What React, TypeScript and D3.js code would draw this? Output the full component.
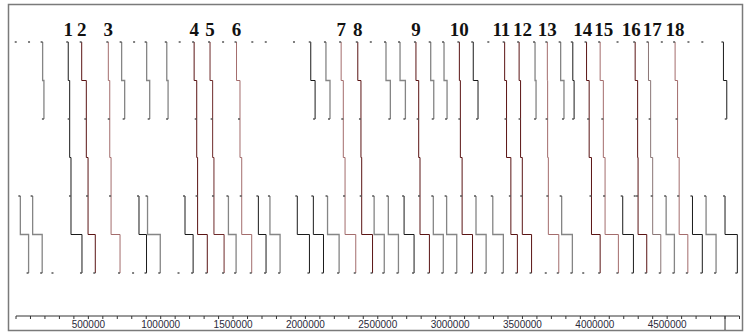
import React from "react";
import * as d3 from "d3";

// positions in kb
const chainLabels = ["1","2","3","4","5","6","7","8","9","10","11","12","13","14","15","16","17","18"];
const chainT1 = [361, 454, 638, 1231, 1341, 1524, 2247, 2362, 2764, 3064, 3377, 3477, 3672, 3943, 4037, 4279, 4371, 4555];
const chainT2 = [371, 486, 648, 1249, 1359, 1548, 2262, 2384, 2783, 3071, 3390, 3487, 3674, 3961, 4059, 4296, 4386, 4572];
const chainT3 = [380, 498, 657, 1255, 1368, 1560, 2274, 2389, 2792, 3083, 3420, 3499, 3679, 3977, 4071, 4299, 4400, 4583];
const chainT4 = [456, 548, 719, 1322, 1438, 1629, 2348, 2464, 2857, 3155, 3465, 3563, 3751, 4037, 4163, 4359, 4456, 4643];
const chainColor = ["k","r","p","r","b","p","p","r","r","r","r","r","p","r","p","r","t","p"];

const topFrom = [184, 730, 903, 1042, 2037, 2142, 2557, 2654, 2866, 2958, 3160, 3587, 3764, 3848, 4889];
const topTo = [193, 751, 924, 1051, 2067, 2170, 2587, 2691, 2887, 2979, 3193, 3594, 3787, 3857, 4912];
const topColor = ["g","g","g","g","k","g","g","g","g","g","k","g","g","k","k"];

const botFrom = [30, 115, 850, 909, 1168, 1468, 1675, 1755, 1944, 2055, 2153, 2475, 2573, 2682, 2884, 2976, 3179, 3295, 3771, 4193, 4493, 4675, 4769, 4900];
const botTo = [87, 181, 902, 997, 1224, 1521, 1728, 1825, 2028, 2125, 2233, 2545, 2643, 2751, 2953, 3046, 3249, 3368, 3845, 4267, 4550, 4743, 4838, 4985];
const botColor = ["g","g","k","g","k","g","k","g","k","k","g","g","g","k","g","g","g","g","g","k","g","k","g","k"];

const loneT1 = [5, 97, 823, 1138, 1438, 1640, 1733, 1928, 2459, 3271, 4164, 4470, 4654, 4750];
const loneT3 = [4283];
const loneT4 = [259, 816, 1130, 3668, 3927];

const axisMaxKb = 5000;
const genomeEndKb = 4900;
const tickLabels = [500000, 1000000, 1500000, 2000000, 2500000, 3000000, 3500000, 4000000, 4500000];

const palette: Record<string, string> = {
  k: "#1a1a1a",
  g: "#858585",
  r: "#5a1414",
  b: "#6e2a2a",
  p: "#a36c6c",
  t: "#8a7676",
};

const W = 745;
const H = 333;

export default function App() {
  const x = d3.scaleLinear().domain([0, axisMaxKb]).range([16, 739.5]);
  const y = d3.scaleLinear().domain([0, 3]).range([42, 273]);
  const ym = (i: number) => (y(i) + y(i + 1)) / 2;

  const link = (a: number, b: number, i: number) =>
    `M${x(a)},${y(i)}V${ym(i)}H${x(b)}V${y(i + 1)}`;

  const chainPath = (pts: number[]) => {
    let d = `M${x(pts[0])},${y(0)}`;
    for (let i = 0; i < pts.length - 1; i++) {
      d += `V${ym(i)}H${x(pts[i + 1])}V${y(i + 1)}`;
    }
    return d;
  };

  const genes: { t: number; p: number }[] = [];
  chainT1.forEach((_, i) => {
    genes.push({ t: 0, p: chainT1[i] }, { t: 1, p: chainT2[i] }, { t: 2, p: chainT3[i] }, { t: 3, p: chainT4[i] });
  });
  topFrom.forEach((v, i) => genes.push({ t: 0, p: v }, { t: 1, p: topTo[i] }));
  botFrom.forEach((v, i) => genes.push({ t: 2, p: v }, { t: 3, p: botTo[i] }));
  loneT1.forEach((v) => genes.push({ t: 0, p: v }));
  loneT3.forEach((v) => genes.push({ t: 2, p: v }));
  loneT4.forEach((v) => genes.push({ t: 3, p: v }));

  // label placement with simple collision avoidance
  const fs = 19;
  const labels = chainLabels.map((s, i) => ({ s, x: x(chainT1[i]), w: s.length * fs * 0.5 }));
  const gap = 2;
  for (let it = 0; it < 60; it++) {
    for (let i = 0; i < labels.length - 1; i++) {
      const a = labels[i], b = labels[i + 1];
      const ov = a.w / 2 + b.w / 2 + gap - (b.x - a.x);
      if (ov > 0) {
        a.x -= ov / 2;
        b.x += ov / 2;
      }
    }
  }

  const minorTicks = d3.range(0, axisMaxKb + 1, 100);
  const axisY = 316;

  return (
    <svg width={W} height={H} style={{ position: "absolute", left: 0, top: 0, background: "#fff" }}>
      <rect x={8.5} y={4.5} width={734} height={326} fill="#fff" stroke="#7a7a7a" strokeWidth={1.5} />
      {labels.map((l, i) => (
        <text key={"l" + i} x={l.x} y={36} textAnchor="middle" fontFamily="'Liberation Serif', 'Times New Roman', serif" fontWeight="bold" fontSize={fs} fill="#111">
          {l.s}
        </text>
      ))}
      {topFrom.map((v, i) => (
        <path key={"t" + i} d={link(v, topTo[i], 0)} fill="none" stroke={palette[topColor[i]]} strokeWidth={topColor[i] === "g" ? 1.3 : 1} />
      ))}
      {botFrom.map((v, i) => (
        <path key={"b" + i} d={link(v, botTo[i], 2)} fill="none" stroke={palette[botColor[i]]} strokeWidth={botColor[i] === "g" ? 1.3 : 1} />
      ))}
      {chainT1.map((_, i) => (
        <path key={"c" + i} d={chainPath([chainT1[i], chainT2[i], chainT3[i], chainT4[i]])} fill="none" stroke={palette[chainColor[i]]} strokeWidth={1} />
      ))}
      {genes.map((g, i) => (
        <rect key={"g" + i} x={x(g.p) - 2} y={y(g.t) - 0.75} width={2} height={1.5} fill="#555" />
      ))}
      <line x1={x(0)} x2={x(axisMaxKb)} y1={axisY} y2={axisY} stroke="#333" strokeWidth={1} />
      {minorTicks.map((t) => (
        <line key={"mt" + t} x1={x(t)} x2={x(t)} y1={axisY} y2={axisY + 3} stroke="#333" strokeWidth={1} />
      ))}
      <line x1={x(genomeEndKb)} x2={x(genomeEndKb)} y1={axisY} y2={330} stroke="#333" strokeWidth={1} />
      {tickLabels.map((t) => (
        <text key={"tl" + t} x={x(t / 1000)} y={328} textAnchor="middle" fontFamily="'Liberation Sans', Arial, sans-serif" fontSize={10} fill="#2a2a3a">
          {t}
        </text>
      ))}
    </svg>
  );
}
